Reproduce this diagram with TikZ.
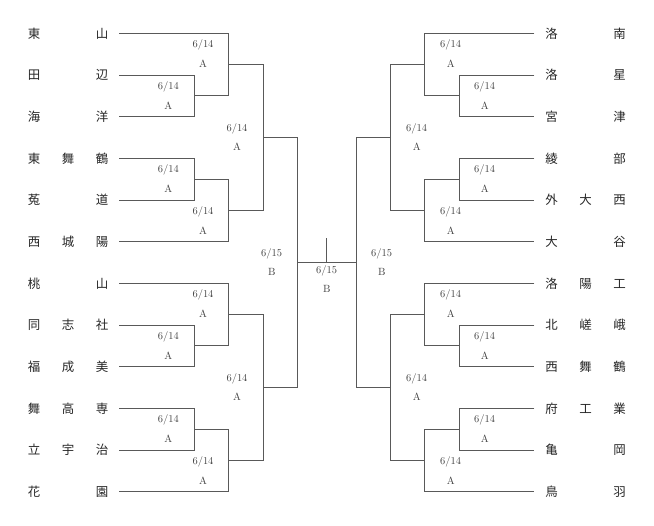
\documentclass[tikz,border=0pt]{standalone}
\usepackage{fontspec}
\newfontfamily\cjk{Noto Sans CJK JP}
\newcommand\teamrow[3]{\makebox[34bp]{#1}\makebox[34bp]{#2}\makebox[34bp]{#3}}
\begin{document}
\begin{tikzpicture}[x=1bp,y=-1bp,
  team/.style={inner sep=0pt, text height=10bp, text depth=0.5bp,
    font=\cjk\fontsize{12.5}{14}\selectfont, text=black!85},
  lab/.style={inner sep=0pt, font=\fontsize{10.5}{12}\selectfont, text=black!75},
  br/.style={draw=black!65, line width=0.9bp}]
\useasboundingbox (0,0) rectangle (654,526);
% left teams
\foreach \a/\b/\c [count=\i from 0] in {東/{}/山,田/{}/辺,海/{}/洋,東/舞/鶴,菟/{}/道,西/城/陽,桃/{}/山,同/志/社,福/成/美,舞/高/専,立/宇/治,花/{}/園}
  \node[team] (L\i) at (68,{33.3+41.67*\i}) {\teamrow{\a}{\b}{\c}};
% right teams
\foreach \a/\b/\c [count=\i from 0] in {洛/{}/南,洛/{}/星,宮/{}/津,綾/{}/部,外/大/西,大/{}/谷,洛/陽/工,北/嵯/峨,西/舞/鶴,府/工/業,亀/{}/岡,鳥/{}/羽}
  \node[team] (R\i) at (585.5,{33.3+41.67*\i}) {\teamrow{\a}{\b}{\c}};
% left bracket junctions
\coordinate (LA1) at (194.3,95.8);
\coordinate (LB1) at (228.7,64.6);
\coordinate (LA2) at (194.3,179.2);
\coordinate (LB2) at (228.7,210.4);
\coordinate (LC1) at (263.3,137.5);
\coordinate (LA3) at (194.3,345.8);
\coordinate (LB3) at (228.7,314.6);
\coordinate (LA4) at (194.3,429.2);
\coordinate (LB4) at (228.7,460.4);
\coordinate (LC2) at (263.3,387.5);
\coordinate (LD) at (297.7,262.5);
% right bracket junctions
\coordinate (RA1) at (459.7,95.8);
\coordinate (RB1) at (424.7,64.6);
\coordinate (RA2) at (459.7,179.2);
\coordinate (RB2) at (424.7,210.4);
\coordinate (RC1) at (390.7,137.5);
\coordinate (RA3) at (459.7,345.8);
\coordinate (RB3) at (424.7,314.6);
\coordinate (RA4) at (459.7,429.2);
\coordinate (RB4) at (424.7,460.4);
\coordinate (RC2) at (390.7,387.5);
\coordinate (RD) at (356.3,262.5);
\coordinate (F) at (326.7,238.3);
% left brackets
\draw[br] (L1.east) -| (LA1) |- (L2.east);
\draw[br] (L0.east) -| (LB1) |- (LA1);
\draw[br] (L3.east) -| (LA2) |- (L4.east);
\draw[br] (LA2) -| (LB2) |- (L5.east);
\draw[br] (LB1) -| (LC1) |- (LB2);
\draw[br] (L7.east) -| (LA3) |- (L8.east);
\draw[br] (L6.east) -| (LB3) |- (LA3);
\draw[br] (L9.east) -| (LA4) |- (L10.east);
\draw[br] (LA4) -| (LB4) |- (L11.east);
\draw[br] (LB3) -| (LC2) |- (LB4);
\draw[br] (LC1) -| (LD) |- (LC2);
% right brackets
\draw[br] (R1.west) -| (RA1) |- (R2.west);
\draw[br] (R0.west) -| (RB1) |- (RA1);
\draw[br] (R3.west) -| (RA2) |- (R4.west);
\draw[br] (RA2) -| (RB2) |- (R5.west);
\draw[br] (RB1) -| (RC1) |- (RB2);
\draw[br] (R7.west) -| (RA3) |- (R8.west);
\draw[br] (R6.west) -| (RB3) |- (RA3);
\draw[br] (R9.west) -| (RA4) |- (R10.west);
\draw[br] (RA4) -| (RB4) |- (R11.west);
\draw[br] (RB3) -| (RC2) |- (RB4);
\draw[br] (RC1) -| (RD) |- (RC2);
% final
\draw[br] (LD) -- (RD);
\draw[br] (F) -- (F |- LD);
% labels
\foreach \x/\k [count=\n] in {203/0,168.3/1,237/2,168.3/3,203/4,203/6,168.3/7,237/8,168.3/9,203/10,450.7/0,484.7/1,416.7/2,484.7/3,450.7/4,450.7/6,484.7/7,416.7/8,484.7/9,450.7/10}{
  \node[lab] (d\n) at (\x,{33.3+41.67*(\k+0.5)-9}) {6/14};
  \node[lab] (a\n) at (\x,{33.3+41.67*(\k+0.5)+9.5}) {A};
}
\node[lab] (dl) at (271.7,253.5) {6/15};
\node[lab] (bl) at (271.7,272) {B};
\node[lab] (dr) at (381.7,253.5) {6/15};
\node[lab] (brr) at (381.7,272) {B};
\node[lab] (dc) at (326.7,270.7) {6/15};
\node[lab] (bc) at (326.7,289.2) {B};
\end{tikzpicture}
\end{document}
